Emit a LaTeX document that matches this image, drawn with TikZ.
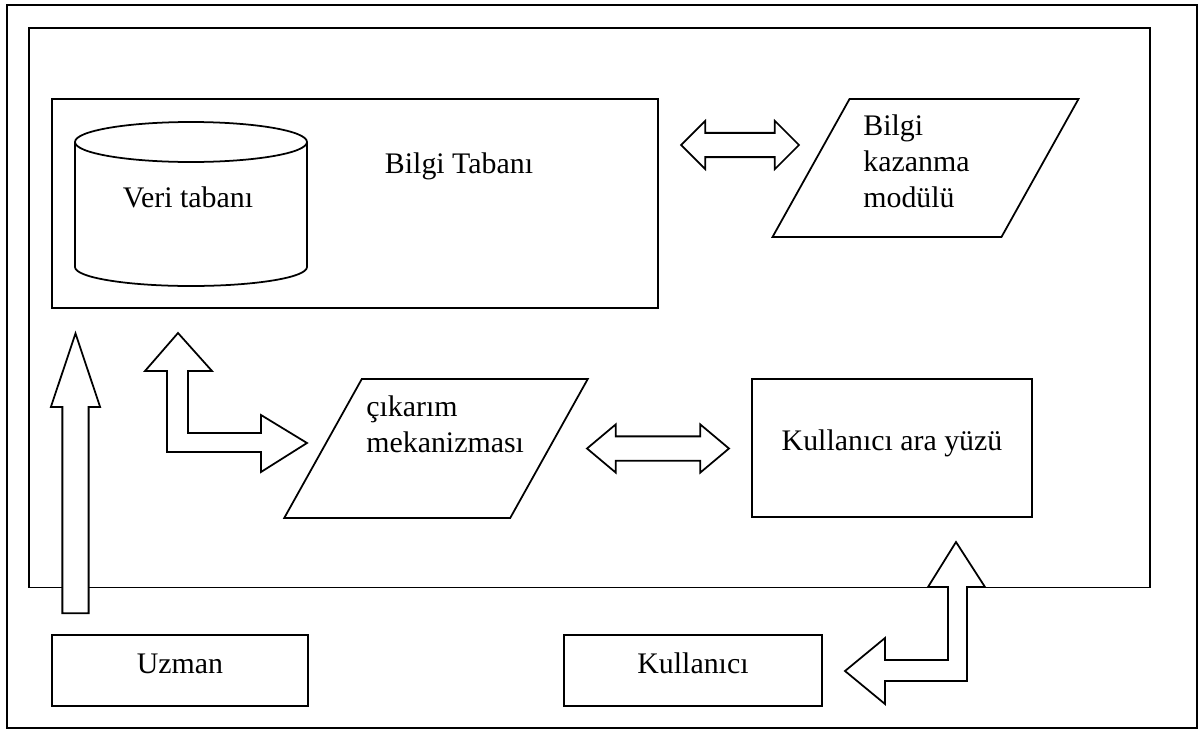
\documentclass[tikz,border=0pt]{standalone}
\usepackage{fontspec}
\setmainfont{Liberation Serif}
\usetikzlibrary{shapes,arrows}
\tikzstyle{cerceve} = [draw, line width=1.1pt]
\tikzstyle{kutu} = [rectangle, draw, line width=1pt, inner sep=0pt, text height=0.4cm, text depth=0.3cm]
\tikzstyle{egik} = [rectangle, draw, line width=1pt, inner sep=0pt, xslant=0.558, transform shape]
\tikzstyle{yazi} = [inner sep=0pt, align=left]
\tikzstyle{ciftok} = [double arrow, draw, fill=white, line width=1pt, inner xsep=0pt, inner ysep=0.225cm, double arrow head extend=0.24cm]
\tikzstyle{tekok} = [single arrow, draw, fill=white, line width=1pt, inner xsep=0pt, inner ysep=0.245cm, single arrow head extend=0.23cm]
\tikzstyle{blokok} = [draw, fill=white, line width=1pt, line join=miter]

\begin{document}
\begin{tikzpicture}[x=0.02cm, y=-0.02cm, every node/.style={font=\fontsize{17}{20.5}\selectfont}]
    \useasboundingbox (0,0) rectangle (1204,730);
    % frames
    \draw[cerceve] (7,5) rectangle (1197,728);
    \draw[cerceve] (29,28) rectangle (1150,587.5);

    % Place nodes
    \node [kutu, minimum width=12.12cm, minimum height=4.18cm] (tabani) at (355,203.5) {};
    \node [yazi, anchor=base] (tabaniyazi) at (459,173) {Bilgi Tabanı};
    \draw[line width=1pt] (75,142) -- (75,267) arc[start angle=180, end angle=0, x radius=116, y radius=19] -- (307,142);
    \draw[line width=1pt] (191,142) ellipse [x radius=116, y radius=20];
    \node [yazi, anchor=base] (veri) at (188,207) {Veri tabanı};

    \node [egik, minimum width=4.58cm, minimum height=2.76cm] (kazanma) at (925.5,168) {};
    \node [yazi, anchor=west] (kazanmayazi) at (863,161) {Bilgi\\kazanma\\modülü};

    \node [egik, minimum width=4.52cm, minimum height=2.78cm] (cikarim) at (436,448.5) {};
    \node [yazi, anchor=west] (cikarimyazi) at (366,424) {çıkarım\\mekanizması};

    \node [kutu, minimum width=5.6cm, minimum height=2.76cm] (arayuz) at (892,448) {Kullanıcı ara yüzü};
    \node [kutu, minimum width=5.12cm, minimum height=1.42cm] (uzman) at (180,670.5) {Uzman};
    \node [kutu, minimum width=5.16cm, minimum height=1.42cm] (kullanici) at (693,670.5) {Kullanıcı};

    % block arrows
    \node [ciftok, minimum height=2.36cm, double arrow tip angle=90] (ok1) at (740,145) {};
    \node [ciftok, minimum height=2.84cm, double arrow tip angle=80] (ok2) at (658,448.5) {};
    \node [tekok, minimum height=5.6cm, single arrow tip angle=37, rotate=90] (ok3) at (75.5,493) {};
    \draw[blokok] (178,333) -- (212,371) -- (188,371) -- (188,433) -- (261,433) -- (261,415) -- (307,443)
        -- (261,472) -- (261,452) -- (167,452) -- (167,371) -- (145,371) -- cycle;
    \draw[blokok] (956,542) -- (985,587) -- (967,587) -- (967,681) -- (885,681) -- (885,704) -- (845,671)
        -- (885,638) -- (885,660) -- (948,660) -- (948,587) -- (928,587) -- cycle;
\end{tikzpicture}
\end{document}
